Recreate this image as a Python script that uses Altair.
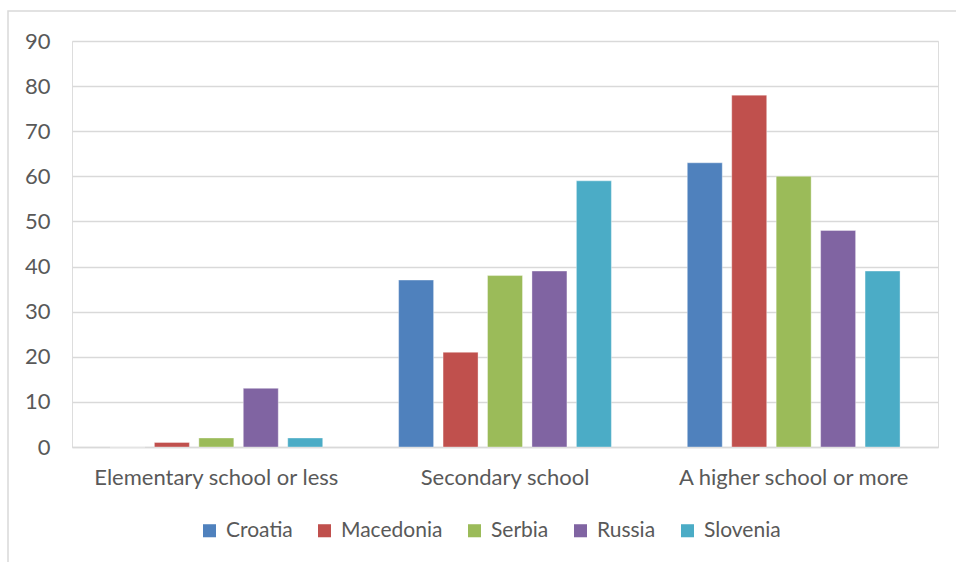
import altair as alt
import pandas as pd

# Survey shares (%) by education level and country
levels = ["Elementary school or less", "Secondary school", "A higher school or more"]
countries = ["Croatia", "Macedonia", "Serbia", "Russia", "Slovenia"]
croatia = [0, 37, 63]
macedonia = [1, 21, 78]
serbia = [2, 38, 60]
russia = [13, 39, 48]
slovenia = [2, 59, 39]
colors = ["#4F81BD", "#C0504D", "#9BBB59", "#8064A2", "#4BACC6"]

series = [croatia, macedonia, serbia, russia, slovenia]
rows = []
for name, vals in zip(countries, series):
    for lvl, v in zip(levels, vals):
        rows.append({"level": lvl, "country": name, "value": v})
df = pd.DataFrame(rows)

FONT = "Lato"
TXT = "#595959"
GRID = "#D9D9D9"

W, H = 866, 406

bars = alt.Chart(df).mark_bar(stroke="white", strokeWidth=0.6, strokeOpacity=0.6).encode(
    x=alt.X("level:N", sort=levels, title=None,
            scale=alt.Scale(paddingInner=0.23, paddingOuter=0.115),
            axis=alt.Axis(labelAngle=0, labelFont=FONT, labelFontSize=22, labelColor=TXT,
                          labelPadding=20, labelLimit=0, ticks=False, domainColor=GRID,
                          domainWidth=1.3, grid=False)),
    xOffset=alt.XOffset("country:N", sort=countries,
                        scale=alt.Scale(paddingInner=0.213, paddingOuter=0.107)),
    y=alt.Y("value:Q", title=None,
            scale=alt.Scale(domain=[0, 90], nice=False),
            axis=alt.Axis(values=list(range(0, 91, 10)), labelFont=FONT, labelFontSize=22,
                          labelColor=TXT, labelPadding=22, ticks=False, domain=False,
                          gridColor=GRID, gridWidth=1.3)),
    color=alt.Color("country:N", sort=countries,
                    scale=alt.Scale(domain=countries, range=colors),
                    legend=alt.Legend(title=None, orient="none", direction="horizontal",
                                      columns=5, legendX=127, legendY=479,
                                      symbolType="square", symbolSize=170,
                                      symbolStrokeWidth=0, labelFont=FONT,
                                      labelFontSize=21, labelColor=TXT, labelLimit=0,
                                      columnPadding=21, symbolOffset=0, labelOffset=6)),
)

# Outer chart frame
frame = alt.Chart(pd.DataFrame({"k": [0]})).mark_rect(
    fill=None, stroke=GRID, strokeWidth=1.5, clip=False
).encode(
    x=alt.value(-64), x2=alt.value(W + 20),
    y=alt.value(-30), y2=alt.value(H + 130),
)

chart = alt.layer(frame, bars).properties(
    width=W, height=H,
    autosize=alt.AutoSizeParams(type="none"),
    padding={"left": 72, "top": 41, "right": 18, "bottom": 115},
).configure_view(stroke=None).configure(background="white")

chart.save("out.html", embed_options={"renderer": "svg", "actions": False})
